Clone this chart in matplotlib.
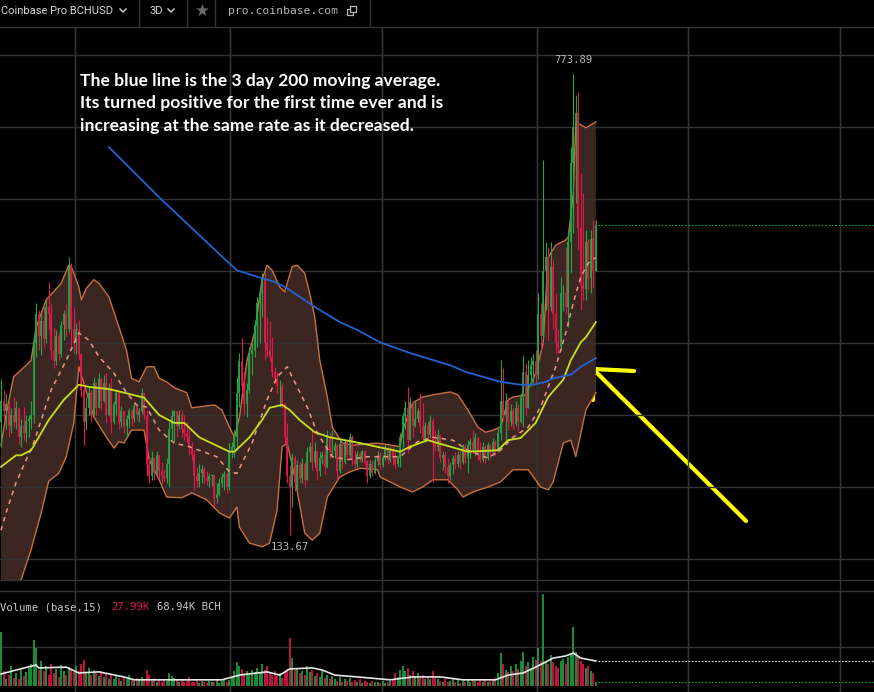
import matplotlib
matplotlib.use('Agg')
import matplotlib.pyplot as plt
from matplotlib.lines import Line2D
from matplotlib import font_manager as fm
import numpy as np

# ---------------- data (3-day candles, BCH/USD) ----------------
open0 = 290
high = [350, 335, 330, 320, 310, 325, 320, 310, 295, 311,
        300, 300, 320, 410, 455, 446, 440, 450, 460, 485,
        455, 421, 418, 414, 430, 446, 455, 519, 511, 450,
        428, 432, 385, 345, 325, 339, 335, 353, 345, 358,
        352, 355, 358, 345, 352, 320, 335, 330, 312, 305,
        300, 310, 308, 317, 312, 310, 337, 330, 307, 240,
        250, 240, 250, 245, 235, 225, 240, 290, 307, 307,
        305, 307, 307, 300, 290, 279, 262, 251, 228, 232,
        230, 228, 222, 220, 218, 216, 205, 212, 219, 222,
        220, 261, 262, 279, 353, 386, 407, 360, 344, 394,
        400, 432, 464, 474, 497, 497, 436, 430, 408, 367,
        360, 349, 345, 317, 289, 230, 247, 245, 238, 235,
        240, 235, 256, 262, 279, 262, 250, 248, 250, 258,
        279, 275, 279, 262, 260, 268, 262, 266, 264, 275,
        272, 250, 250, 248, 252, 252, 238, 238, 238, 240,
        250, 248, 245, 258, 255, 255, 256, 248, 245, 275,
        303, 320, 339, 325, 318, 320, 310, 330, 317, 290,
        292, 300, 296, 279, 280, 272, 250, 248, 240, 235,
        245, 248, 250, 252, 260, 260, 265, 268, 279, 275,
        270, 262, 262, 258, 262, 260, 268, 265, 285, 376,
        365, 330, 325, 315, 310, 320, 315, 330, 383, 372,
        376, 380, 385, 390, 469, 455, 654, 540, 533, 540,
        515, 469, 420, 492, 480, 533, 557, 672, 773.89, 744,
        749, 636, 608, 557, 545, 557, 571, 571]
low = [255, 290, 280, 270, 275, 283, 280, 260, 255, 265,
       262, 270, 280, 289, 380, 390, 383, 395, 400, 420,
       378, 365, 370, 376, 380, 404, 410, 415, 395, 386,
       385, 378, 325, 258, 279, 300, 290, 300, 300, 310,
       307, 318, 289, 298, 275, 288, 300, 280, 283, 275,
       270, 283, 285, 290, 293, 290, 303, 295, 215, 206,
       210, 210, 215, 212, 205, 208, 205, 200, 265, 262,
       270, 280, 270, 265, 262, 245, 238, 196, 200, 200,
       205, 205, 203, 200, 202, 172, 178, 188, 200, 196,
       192, 196, 240, 242, 251, 311, 330, 300, 297, 330,
       355, 381, 394, 400, 436, 376, 381, 375, 353, 344,
       330, 311, 310, 261, 206, 133.67, 172, 195, 196, 205,
       205, 200, 210, 235, 224, 228, 210, 215, 232, 218,
       226, 240, 242, 240, 210, 220, 225, 232, 240, 242,
       230, 225, 228, 235, 235, 230, 206, 212, 215, 218,
       230, 225, 228, 238, 232, 235, 230, 225, 228, 228,
       256, 280, 247, 265, 269, 283, 290, 275, 265, 262,
       265, 268, 206, 250, 250, 235, 224, 220, 206, 210,
       218, 225, 228, 225, 232, 233, 219, 240, 247, 245,
       238, 233, 235, 233, 238, 240, 245, 245, 248, 265,
       293, 262, 279, 285, 280, 285, 278, 289, 283, 300,
       310, 340, 345, 345, 350, 390, 405, 446, 404, 445,
       420, 386, 386, 390, 445, 440, 422, 497, 553, 594,
       529, 446, 460, 460, 474, 470, 478, 500]
close = [320, 305, 315, 285, 300, 290, 310, 270, 285, 275,
         292, 295, 300, 400, 440, 410, 430, 405, 450, 440,
         390, 375, 410, 385, 425, 440, 420, 505, 420, 400,
         420, 385, 335, 290, 310, 330, 300, 345, 310, 350,
         320, 345, 300, 335, 290, 315, 330, 290, 305, 285,
         295, 305, 295, 312, 300, 305, 330, 300, 230, 215,
         240, 220, 245, 222, 215, 212, 232, 280, 298, 305,
         285, 300, 280, 275, 270, 255, 245, 215, 208, 220,
         225, 212, 208, 215, 216, 185, 190, 205, 214, 218,
         200, 250, 255, 270, 330, 375, 340, 315, 335, 385,
         390, 425, 455, 470, 490, 400, 390, 380, 360, 350,
         340, 340, 315, 270, 215, 200, 240, 205, 230, 212,
         232, 210, 248, 255, 235, 250, 222, 240, 245, 228,
         270, 248, 250, 258, 222, 260, 235, 262, 245, 270,
         238, 232, 246, 238, 250, 235, 215, 232, 220, 236,
         245, 230, 242, 252, 238, 250, 240, 232, 240, 270,
         298, 310, 265, 318, 285, 295, 305, 285, 268, 285,
         272, 292, 262, 255, 272, 240, 245, 228, 215, 230,
         240, 232, 245, 235, 255, 240, 258, 262, 252, 268,
         245, 238, 255, 240, 258, 248, 262, 250, 275, 320,
         300, 320, 290, 305, 288, 310, 290, 325, 360, 310,
         355, 370, 375, 355, 440, 410, 500, 520, 450, 505,
         440, 400, 395, 470, 470, 450, 540, 650, 700, 720,
         560, 480, 475, 540, 490, 545, 500, 564]
volume = [150, 40, 18, 30, 55, 22, 35, 20, 45, 28, 38, 50,
          60, 127, 105, 45, 70,
          40, 55, 30, 62, 35, 48, 25, 58, 40, 30, 52, 45, 38,
          55, 42, 60, 72, 38, 50, 30, 45, 35, 28, 40,
          25, 35, 20, 30, 18, 28, 22, 15, 25, 18, 30, 20, 14, 22, 16, 25, 20, 45,
          30, 15, 22, 12, 18, 10, 20, 14, 35, 28, 22, 16, 12, 18, 10, 15, 24, 12,
          10, 16, 9, 14, 11, 8, 15, 10, 12, 18, 9, 14, 20, 12, 16,
          25, 40, 66, 55, 48, 35, 42, 30, 45, 38, 50, 35, 60,
          45, 55, 38, 30, 42, 28, 35, 22, 40, 48,
          132,
          77, 45, 50, 35, 42, 30, 55, 38, 45, 28,
          35, 25, 40, 22, 30, 18, 28, 20, 15, 25, 12, 20, 14, 22, 10,
          16, 12, 18, 9, 14, 11, 8, 15, 10, 12, 9, 14, 8, 11, 13,
          20, 35, 25, 45, 55, 40, 50, 30, 42, 28, 35, 22, 30, 18, 25, 20, 40, 22, 18, 15,
          12, 18, 10, 15, 20, 12, 16, 9, 14, 11, 18, 12, 20, 15, 10, 14, 12, 16, 10, 13, 18, 22,
          35, 90, 60, 45, 38, 55, 40, 62, 48, 70, 95, 55, 65, 50, 80, 72,
          105, 70, 254,
          70, 60, 85, 65, 55, 50, 70, 75, 60, 80, 90, 163, 95, 80, 70, 60, 50, 55, 40, 35, 11]

# indicator lines (candle index, price)
ma200_idx = [43, 64, 89, 94, 102, 109, 114, 125, 135, 142, 151, 163, 179, 185, 191, 199, 207, 212, 217, 220, 227, 231, 237]
ma200_val = [672, 599, 517, 501, 492, 485, 476, 450, 429, 418, 401, 386, 369, 360, 354, 346, 342, 342, 346, 351, 356, 367, 379]
ma50_idx = [0, 6, 8, 12, 19, 25, 31, 35, 43, 49, 57, 63, 69, 73, 79, 91, 93, 99, 104, 107, 112, 115, 119, 125, 131,
            143, 159, 163, 170, 179, 186, 198, 202, 207, 213, 218, 224, 227, 231, 233, 237]
ma50_val = [228, 244, 244, 251, 293, 321, 342, 339, 336, 331, 324, 300, 289, 289, 269, 249, 249, 269, 293, 310, 314,
            307, 293, 276, 269, 261, 249, 256, 265, 256, 249, 251, 265, 268, 289, 325, 349, 376, 401, 408, 429]
basis_idx = [0, 2, 6, 13, 20, 26, 31, 35, 39, 45, 50, 54, 58, 63, 69, 75, 86, 91, 94, 100, 106, 110, 114, 116, 122,
             126, 132, 138, 146, 159, 166, 172, 180, 186, 194, 199, 204, 210, 215, 221, 225, 228, 231, 234, 237]
basis_val = [140, 164, 206, 261, 335, 376, 414, 404, 381, 358, 331, 314, 311, 279, 261, 256, 242, 221, 219, 261, 321,
             353, 367, 353, 311, 275, 242, 238, 242, 242, 263, 269, 265, 251, 240, 251, 269, 283, 311, 367, 414, 456,
             492, 511, 519]
upper_idx = [0, 2, 5, 10, 12, 14, 18, 24, 27, 28, 31, 32, 34, 37, 39, 43, 47, 50, 52, 55, 58, 61, 63, 66, 69, 74, 76,
             85, 88, 91, 93, 95, 98, 101, 104, 106, 108, 111, 113, 116, 118, 121, 123, 125, 127, 130, 132, 136, 140,
             150, 159, 160, 164, 168, 172, 179, 182, 186, 190, 193, 196, 199, 202, 204, 209, 213, 216, 218, 221, 225,
             226, 228, 229, 231, 233, 237]
upper_val = [258, 300, 353, 369, 376, 422, 460, 483, 508, 506, 478, 460, 476, 488, 483, 464, 422, 390, 351, 346, 367,
             367, 351, 346, 338, 331, 310, 314, 307, 283, 269, 297, 376, 414, 488, 508, 501, 478, 471, 506, 508, 497,
             469, 436, 376, 325, 283, 261, 258, 261, 256, 279, 317, 325, 328, 332, 328, 307, 283, 276, 279, 283, 321,
             325, 328, 358, 400, 519, 536, 543, 547, 608, 706, 703, 699, 707]
lower_idx = [0, 8, 12, 16, 19, 23, 26, 29, 31, 33, 37, 42, 45, 47, 49, 52, 57, 59, 63, 66, 72, 76, 82, 87, 91, 94, 95,
             99, 104, 107, 110, 112, 114, 117, 121, 124, 127, 130, 135, 139, 143, 150, 151, 159, 164, 168, 172, 178,
             182, 184, 188, 194, 199, 204, 210, 215, 218, 220, 224, 227, 229, 233, 237]
lower_val = [-35, 71, 113, 164, 208, 219, 242, 289, 367, 344, 297, 269, 254, 263, 261, 279, 279, 238, 210, 186, 185,
             192, 182, 164, 157, 172, 144, 122, 117, 122, 168, 256, 261, 214, 136, 126, 136, 186, 214, 221, 226, 224,
             214, 200, 193, 200, 210, 210, 196, 186, 193, 200, 207, 224, 224, 200, 196, 207, 261, 265, 242, 307, 331]
vma_idx = [0, 6, 14, 15, 26, 31, 39, 49, 53, 88, 95, 106, 111, 115, 124, 128, 133, 142, 155, 164, 175, 184, 197, 202,
           208, 213, 220, 225, 228, 231, 237]
vma_val = [33, 44, 58, 50, 52, 36, 39, 25, 17, 17, 30, 39, 30, 47, 50, 44, 30, 25, 17, 25, 25, 17, 17, 30, 36, 52,
           77, 83, 91, 77, 69]

price_grid = [100, 200, 300, 400, 500, 600, 700, 800]
time_grid = [29.5, 91.2, 151.8, 213.5, 273.7, 334.3]   # Jul-19 ... Jan-22 in candle units
vol_grid = [108]

# ---------------- style ----------------
W, H = 874, 692
GREEN = '#1fa843'
RED = '#e3174b'
GRID = '#333333'
BAND = '#3c2622'
BAND_EDGE = '#c8703c'
XL = (-0.4, 347.8)

names = {f.name for f in fm.fontManager.ttflist}
ann_font = [n for n in ['Liberation Sans Narrow', 'Lato', 'DejaVu Sans'] if n in names] + ['DejaVu Sans']
ui_font = [n for n in ['Roboto', 'DejaVu Sans'] if n in names] + ['DejaVu Sans']

fig = plt.figure(figsize=(W / 100, H / 100), dpi=100, facecolor='black')


def fx(px):
    return px / W


def fy(py):
    return 1 - py / H


# background axes carrying the time grid through both panes
bg = fig.add_axes([0, 0, 1, fy(27)], zorder=0)
bg.set_xlim(XL)
bg.set_ylim(0, 1)
bg.axis('off')
for t in time_grid:
    bg.axvline(t, color=GRID, lw=1)

for yy in [27, 580, 591]:
    fig.add_artist(Line2D([0, 1], [fy(yy), fy(yy)], color=GRID, lw=1))

# ---------------- price pane ----------------
ax = fig.add_axes([0, fy(580), 1, (580 - 27) / H], zorder=2)
ax.set_facecolor('none')
ax.set_xlim(XL)
ax.set_ylim(70.8, 838.9)
ax.axis('off')

for p in price_grid:
    ax.axhline(p, color=GRID, lw=1, zorder=1.5)
for t in time_grid:
    ax.axvline(t, color=GRID, lw=1, zorder=1.5)

band_x = list(upper_idx) + list(lower_idx[::-1])
band_y = list(upper_val) + list(lower_val[::-1])
ax.fill(band_x, band_y, color=BAND, lw=0, zorder=1)
ax.plot(upper_idx, upper_val, color=BAND_EDGE, lw=1, zorder=2)
ax.plot(lower_idx, lower_val, color=BAND_EDGE, lw=1, zorder=2)

close_a = np.array(close, float)
idx = np.arange(len(close_a))
opens = np.r_[open0, close_a[:-1]]
up = close_a >= opens
cols = np.where(up, GREEN, RED)
ax.vlines(idx, low, high, colors=cols, lw=0.8, zorder=3)
ax.vlines(idx, np.minimum(opens, close_a), np.maximum(opens, close_a), colors=cols, lw=1.3, zorder=3)

ax.plot(basis_idx, basis_val, color='#e79a82', lw=1.1, ls=(0, (3, 3)), zorder=4)
ax.plot(ma50_idx, ma50_val, color='#c8e01c', lw=1.3, zorder=5)
ax.plot(ma200_idx, ma200_val, color='#2463cf', lw=1.3, zorder=6)

ax.hlines(close_a[-1], idx[-1] + 0.8, XL[1], colors=GREEN, lw=0.8, ls=(0, (1.5, 1.5)), zorder=3)

ihi = int(np.argmax(high))
ilo = int(np.argmin(low))
ax.annotate(f'{high[ihi]:.2f}', xy=(ihi, high[ihi]), xytext=(0, 10), textcoords='offset points',
            ha='center', va='center', color='#b8b8b8', fontsize=7.6, family='DejaVu Sans Mono', zorder=7)
ax.annotate(f'{low[ilo]:.2f}', xy=(ilo, low[ilo]), xytext=(0, -9), textcoords='offset points',
            ha='center', va='center', color='#b8b8b8', fontsize=7.6, family='DejaVu Sans Mono', zorder=7)

# ---------------- volume pane ----------------
vax = fig.add_axes([0, 0, 1, (H - 591) / H], zorder=2)
vax.set_facecolor('none')
vax.set_xlim(XL)
vax.set_ylim(-16.6, 262.2)
vax.axis('off')
for v in vol_grid:
    vax.axhline(v, color=GRID, lw=1, zorder=1)
for t in time_grid:
    vax.axvline(t, color=GRID, lw=1, zorder=1)
vax.vlines(idx, 0, volume, colors=cols, lw=1.2, zorder=3)
vax.plot(vma_idx, vma_val, color='#e6e6e6', lw=1.2, zorder=4)
vax.hlines(vma_val[-1], idx[-1] + 0.8, XL[1], colors='#e6e6e6', lw=0.8, ls=(0, (1.5, 1.5)), zorder=3)
vax.hlines(volume[-1], idx[-1] + 0.8, XL[1], colors=GREEN, lw=0.8, ls=(0, (1.5, 1.5)), zorder=3)

fig.text(fx(0), fy(607), 'Volume (base,15)', color='#c8c8c8', fontsize=7.6, family='DejaVu Sans Mono',
         ha='left', va='center')
fig.text(fx(111), fy(607), '27.99K', color=RED, fontsize=7.6, family='DejaVu Sans Mono', ha='left', va='center')
fig.text(fx(157), fy(607), '68.94K BCH', color='#c8c8c8', fontsize=7.6, family='DejaVu Sans Mono',
         ha='left', va='center')

# ---------------- toolbar ----------------
for xs in [139, 187, 215, 370]:
    fig.add_artist(Line2D([fx(xs), fx(xs)], [fy(0), fy(26)], color=GRID, lw=1))
fig.text(fx(1), fy(11), 'Coinbase Pro BCHUSD', color='#d6d6d6', fontsize=8.0, family=ui_font,
         ha='left', va='center')
fig.text(fx(150), fy(11), '3D', color='#d6d6d6', fontsize=8.0, family=ui_font, ha='left', va='center')
for cx in [123, 171]:
    fig.add_artist(Line2D([fx(cx - 3), fx(cx), fx(cx + 3)], [fy(9), fy(12), fy(9)], color='#d6d6d6', lw=1))
fig.text(fx(202), fy(11), '★', color='#6c6c6c', fontsize=12, family='DejaVu Sans', ha='center', va='center')
fig.text(fx(228), fy(11), 'pro.coinbase.com', color='#b4b4b4', fontsize=8.2, family='DejaVu Sans Mono',
         ha='left', va='center')
fig.add_artist(Line2D([fx(350), fx(356), fx(356), fx(350), fx(350)], [fy(6), fy(6), fy(12), fy(12), fy(6)],
                      color='#b4b4b4', lw=0.9))
fig.add_artist(Line2D([fx(350), fx(347), fx(347), fx(353), fx(353)], [fy(9), fy(9), fy(15), fy(15), fy(12)],
                      color='#b4b4b4', lw=0.9))

# ---------------- annotation ----------------
ann_lines = ['The blue line is the 3 day 200 moving average.',
             'Its turned positive for the first time ever and is',
             'increasing at the same rate as it decreased.']
for k, s in enumerate(ann_lines):
    fig.text(fx(80), fy(81 + 22.3 * k), s, color='white', fontsize=12.6, family=ann_font,
             fontweight='bold', ha='left', va='center')

# hand-drawn yellow arrow
Y = '#ffff00'
fig.add_artist(Line2D([fx(746), fx(594)], [fy(521), fy(370)], color=Y, lw=3, solid_capstyle='round'))
fig.add_artist(Line2D([fx(594), fx(634)], [fy(369), fy(371)], color=Y, lw=3, solid_capstyle='round'))
fig.add_artist(Line2D([fx(594), fx(593)], [fy(369), fy(400)], color=Y, lw=3, solid_capstyle='round'))

fig.savefig('out.png', dpi=100, facecolor='black')
